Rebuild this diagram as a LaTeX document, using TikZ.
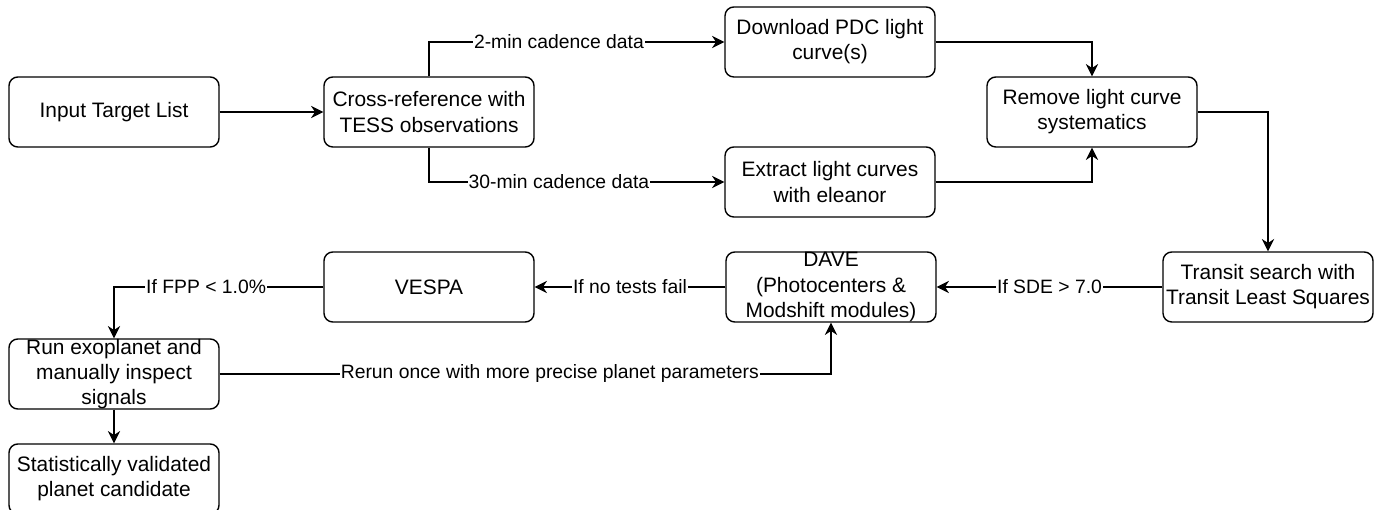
\documentclass[tikz,border=0pt]{standalone}
\usepackage{fontspec}
\setmainfont{Liberation Sans}
\usetikzlibrary{arrows.meta}

\begin{document}
\begin{tikzpicture}
          \tikzset{
            BoxStyle/.style = { rectangle, rounded corners=5pt, draw,
              line width=0.8pt, minimum width=4.2cm, minimum height=1.4cm,
              inner sep=0pt, align=center,
              font=\fontsize{11.9}{14.3}\selectfont },
            LabelStyle/.style = { fill=white, inner sep=0.6pt,
              font=\fontsize{11}{13}\selectfont },
            EdgeStyle/.style = { line width=0.8pt,
              -{Stealth[length=7pt,width=7pt]} } }

          \useasboundingbox (0,0) rectangle (27.74,-10.20);
          % top row
          \node[BoxStyle] (InputList) at (2.28,-2.24) {Input Target List};
          \node[BoxStyle] (CrossRef) at (8.58,-2.24) {Cross-reference with\\TESS observations};
          \node[BoxStyle] (PDC) at (16.60,-0.84) {Download PDC light\\curve(s)};
          \node[BoxStyle] (Eleanor) at (16.60,-3.64) {Extract light curves\\with eleanor};
          \node[BoxStyle] (Systematics) at (21.84,-2.24) {Remove light curve\\systematics};
          % bottom rows
          \node[BoxStyle] (TLS) at (25.36,-5.74) {Transit search with\\Transit Least Squares};
          \node[BoxStyle] (DAVE) at (16.62,-5.74) {DAVE\\(Photocenters \&\\Modshift modules)};
          \node[BoxStyle] (VESPA) at (8.58,-5.74) {VESPA};
          \node[BoxStyle] (Exoplanet) at (2.28,-7.48) {Run exoplanet and\\manually inspect\\signals};
          \node[BoxStyle] (Validated) at (2.28,-9.58) {Statistically validated\\planet candidate};

          \draw[EdgeStyle] (InputList) -- (CrossRef);
          \draw[EdgeStyle] (CrossRef.north) |- node[LabelStyle, pos=0.72] {2-min cadence data} (PDC);
          \draw[EdgeStyle] (CrossRef.south) |- node[LabelStyle, pos=0.72] {30-min cadence data} (Eleanor);
          \draw[EdgeStyle] (PDC) -| (Systematics);
          \draw[EdgeStyle] (Eleanor) -| (Systematics);
          \draw[EdgeStyle] (Systematics) -| (TLS);
          \draw[EdgeStyle] (TLS) -- node[LabelStyle] {If SDE > 7.0} (DAVE);
          \draw[EdgeStyle] (DAVE) -- node[LabelStyle] {If no tests fail} (VESPA);
          \draw[EdgeStyle] (VESPA) -| node[LabelStyle, pos=0.28] {If FPP < 1.0\%} (Exoplanet);
          \draw[EdgeStyle] (Exoplanet) -| node[LabelStyle, pos=0.27] {Rerun once with more precise planet parameters} (DAVE);
          \draw[EdgeStyle] (Exoplanet) -- (Validated);
          % \draw[EdgeStyle] (DAVE) -- (Exoplanet);
\end{tikzpicture}
\end{document}
